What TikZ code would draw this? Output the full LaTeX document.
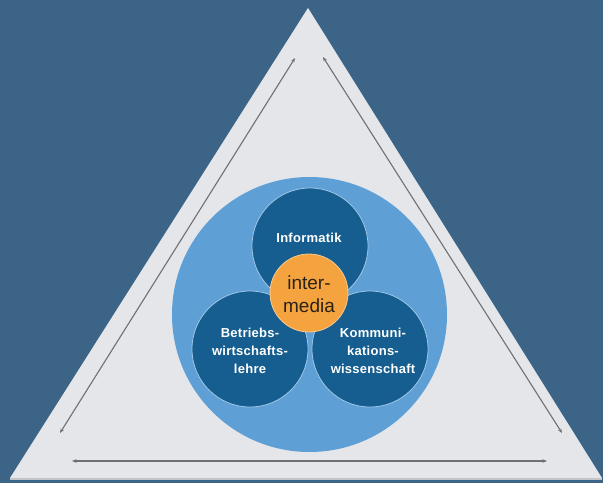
\documentclass[tikz,border=0pt]{standalone}
\usepackage{fontspec}
\setmainfont{Liberation Sans}
\usetikzlibrary{arrows.meta}
\definecolor{bg}{RGB}{60,100,134}
\definecolor{tri}{RGB}{229,230,234}
\definecolor{lightb}{RGB}{94,160,214}
\definecolor{darkb}{RGB}{22,94,143}
\definecolor{orng}{RGB}{245,163,62}
\definecolor{arr}{RGB}{110,112,118}
\definecolor{txtd}{RGB}{40,34,24}
\tikzset{
  bigcirc/.style={circle, fill=lightb, minimum size=275pt, inner sep=0pt},
  fieldcirc/.style={circle, fill=darkb, draw=lightb!60!white, line width=0.8pt, minimum size=116pt, inner sep=0pt},
  corecirc/.style={circle, fill=orng, draw=orng!60!white, line width=0.8pt, minimum size=78pt, inner sep=0pt},
  fieldlbl/.style={text=white, font=\bfseries\fontsize{13}{18}\selectfont\addfontfeature{LetterSpace=2}, align=center, inner sep=0pt},
  corelbl/.style={text=txtd, font=\fontsize{19}{23}\selectfont, align=center, inner sep=0pt},
  arrowline/.style={draw=arr, line width=1.1pt, {Stealth[length=4.5pt,width=3.5pt]}-{Stealth[length=4.5pt,width=3.5pt]}}
}
\begin{document}
\begin{tikzpicture}[x=1pt,y=-1pt]
\fill[bg] (0,0) rectangle (603,483);
\useasboundingbox (0,0) rectangle (603,483);
% triangle
\coordinate (apex) at (308,8);
\coordinate (bl) at (10,478);
\coordinate (br) at (602,478);
\fill[tri] (apex) -- (br) -- (bl) -- cycle;
\fill[tri!85!black] (bl) rectangle (602,480);
% arrows
\coordinate (la) at (295,58);
\coordinate (lb) at (60,433);
\coordinate (ra) at (323,57);
\coordinate (rb) at (562,433);
\coordinate (ba) at (72,461);
\coordinate (bb) at (547,461);
\draw[arrowline] (la) -- (lb);
\draw[arrowline] (ra) -- (rb);
\draw[arrowline] (ba) -- (bb);
% circles
\node[bigcirc] (outer) at (309.5,314.5) {};
\node[fieldcirc] (inf) at (310,246) {};
\node[fieldcirc] (bwl) at (250,349) {};
\node[fieldcirc] (kw) at (370,349) {};
\node[corecirc] (core) at (309,293) {};
% labels
\node[fieldlbl] (tinf) at (309,238) {Informatik};
\node[fieldlbl] (tbwl) at (250,351) {Betriebs-\\wirtschafts-\\lehre};
\node[fieldlbl] (tkw) at (373,351) {Kommuni-\\kations-\\wissenschaft};
\node[corelbl] (tcore) at (309,294) {inter-\\media};
\end{tikzpicture}
\end{document}
